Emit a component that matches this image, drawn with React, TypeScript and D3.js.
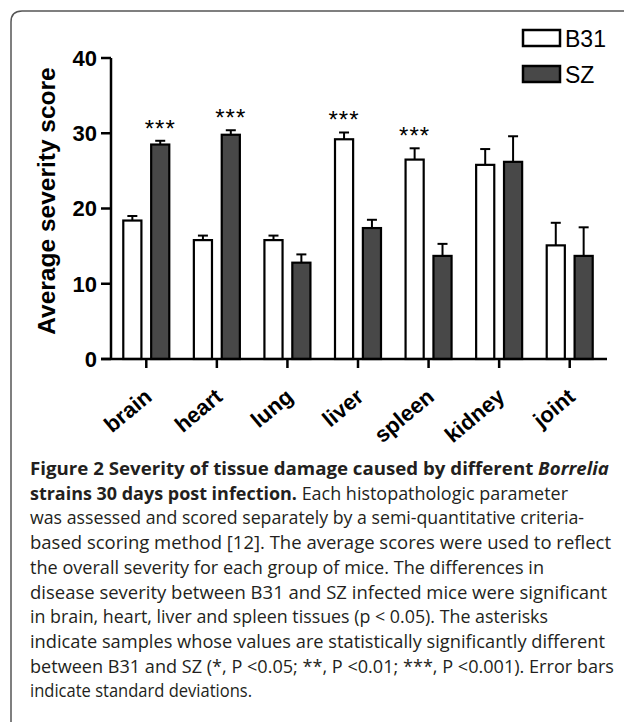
import React from "react";
import * as d3 from "d3";

const categories = ["brain", "heart", "lung", "liver", "spleen", "kidney", "joint"];
const seriesNames = ["B31", "SZ"];
const b31Mean = [18.4, 15.8, 15.8, 29.2, 26.5, 25.8, 15.1];
const b31Sd = [0.6, 0.6, 0.6, 0.9, 1.5, 2.1, 3.0];
const szMean = [28.5, 29.8, 12.8, 17.4, 13.7, 26.2, 13.7];
const szSd = [0.5, 0.6, 1.1, 1.1, 1.6, 3.4, 3.8];
const significance = ["***", "***", "", "***", "***", "", ""];
const yTicks = [0, 10, 20, 30, 40];
const yLabel = "Average severity score";

const captionLines: { text: string; style: string }[][] = [
  [
    { text: "Figure 2 Severity of tissue damage caused by different ", style: "b" },
    { text: "Borrelia", style: "bi" },
  ],
  [
    { text: "strains 30 days post infection.", style: "b" },
    { text: " Each histopathologic parameter", style: "r" },
  ],
  [{ text: "was assessed and scored separately by a semi-quantitative criteria-", style: "r" }],
  [{ text: "based scoring method [12]. The average scores were used to reflect", style: "r" }],
  [{ text: "the overall severity for each group of mice. The differences in", style: "r" }],
  [{ text: "disease severity between B31 and SZ infected mice were significant", style: "r" }],
  [{ text: "in brain, heart, liver and spleen tissues (p < 0.05). The asterisks", style: "r" }],
  [{ text: "indicate samples whose values are statistically significantly different", style: "r" }],
  [{ text: "between B31 and SZ (*, P <0.05; **, P <0.01; ***, P <0.001). Error bars", style: "r" }],
  [{ text: "indicate standard deviations.", style: "r" }],
];

// layout: right end (px) of each caption line as set in the figure
const captionLineEnds = [609, 568, 584, 611, 544, 607, 548, 605, 614, 252];

const W = 624;
const H = 722;
const AX = "'Liberation Sans', Arial, sans-serif";
const CAP = "'Open Sans', 'Noto Sans', sans-serif";
const CAP_X = 30;

export default function App() {
  const x0 = d3.scaleBand<string>().domain(categories).range([111, 605]).paddingInner(0).paddingOuter(0);
  const x1 = d3
    .scaleBand<string>()
    .domain(seriesNames)
    .range([-23, 23])
    .paddingInner(0.35)
    .paddingOuter(0);
  const y = d3.scaleLinear().domain([0, 40]).range([359, 58]);
  const fills: Record<string, string> = { B31: "#ffffff", SZ: "#484848" };
  const means: Record<string, number[]> = { B31: b31Mean, SZ: szMean };
  const sds: Record<string, number[]> = { B31: b31Sd, SZ: szSd };

  return (
    <svg width={W} height={H} style={{ display: "block", position: "absolute", left: 0, top: 0 }}>
      <rect x={0} y={0} width={W} height={H} fill="#fff" />
      <path d={`M11,${H + 2} L11,22 Q11,11 22,11 L${W + 2},11`} fill="none" stroke="#555" strokeWidth={1.5} />

      {/* bars */}
      {categories.map((c, i) => {
        const cx = (x0(c) as number) + x0.bandwidth() / 2;
        return (
          <g key={c}>
            {seriesNames.map((s) => {
              const bx = cx + (x1(s) as number);
              const bw = x1.bandwidth();
              const v = means[s][i];
              const e = v + sds[s][i];
              const mx = bx + bw / 2;
              return (
                <g key={s}>
                  <line x1={mx} x2={mx} y1={y(v)} y2={y(e)} stroke="#000" strokeWidth={2} />
                  <line x1={mx - 5} x2={mx + 5} y1={y(e)} y2={y(e)} stroke="#000" strokeWidth={2} />
                  <rect x={bx} y={y(v)} width={bw} height={y(0) - y(v)} fill={fills[s]} stroke="#000" strokeWidth={2.2} />
                </g>
              );
            })}
            {significance[i] && (() => {
              const s = b31Mean[i] + b31Sd[i] > szMean[i] + szSd[i] ? "B31" : "SZ";
              const top = Math.max(b31Mean[i] + b31Sd[i], szMean[i] + szSd[i]);
              const mx = cx + (x1(s) as number) + x1.bandwidth() / 2;
              return (
                <text x={mx} y={y(top) - 4} textAnchor="middle" fontFamily={AX} fontSize={24} letterSpacing={1}>
                  {significance[i]}
                </text>
              );
            })()}
          </g>
        );
      })}

      {/* axes */}
      <line x1={111} x2={111} y1={y(40)} y2={y(0)} stroke="#000" strokeWidth={2.5} />
      <line x1={101} x2={607} y1={y(0)} y2={y(0)} stroke="#000" strokeWidth={2.5} />
      {yTicks.map((t) => (
        <g key={t}>
          <line x1={101} x2={111} y1={y(t)} y2={y(t)} stroke="#000" strokeWidth={2.5} />
          <text x={97} y={y(t)} dy="0.36em" textAnchor="end" fontFamily={AX} fontWeight="bold" fontSize={22}>
            {t}
          </text>
        </g>
      ))}
      {categories.map((c) => {
        const cx = (x0(c) as number) + x0.bandwidth() / 2;
        return (
          <g key={c}>
            <line x1={cx} x2={cx} y1={y(0)} y2={y(0) + 9} stroke="#000" strokeWidth={2.5} />
            <text
              transform={`translate(${cx + 7},${y(0) + 40}) rotate(-40)`}
              textAnchor="end"
              fontFamily={AX}
              fontWeight="bold"
              fontSize={22}
            >
              {c}
            </text>
          </g>
        );
      })}
      <text
        transform={`translate(55,201) rotate(-90)`}
        textAnchor="middle"
        fontFamily={AX}
        fontWeight="bold"
        fontSize={24.5}
      >
        {yLabel}
      </text>

      {/* legend */}
      {seriesNames.map((s, i) => (
        <g key={s} transform={`translate(523,${30 + i * 36})`}>
          <rect x={0} y={0} width={37} height={16} fill={fills[s]} stroke="#000" strokeWidth={2.5} />
          <text x={42} y={16.5} fontFamily={AX} fontSize={23}>
            {s}
          </text>
        </g>
      ))}

      {/* caption */}
      {captionLines.map((line, i) => (
        <text
          key={i}
          x={CAP_X}
          y={475 + i * 24.7}
          fontFamily={CAP}
          fontSize={17.5}
          fill="#231f20"
          textLength={captionLineEnds[i] - CAP_X}
          lengthAdjust="spacingAndGlyphs"
        >
          {line.map((seg, j) => (
            <tspan
              key={j}
              fontWeight={seg.style.includes("b") ? "bold" : "normal"}
              fontStyle={seg.style.includes("i") ? "italic" : "normal"}
            >
              {seg.text}
            </tspan>
          ))}
        </text>
      ))}
    </svg>
  );
}
